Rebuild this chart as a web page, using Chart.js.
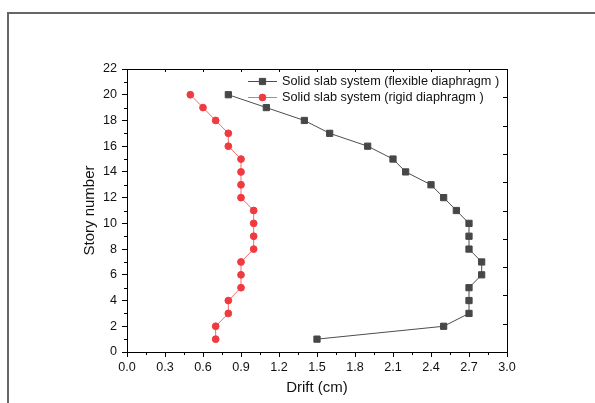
<!DOCTYPE html>
<html>
<head>
<meta charset="utf-8">
<script src="https://cdn.jsdelivr.net/npm/chart.js@4"></script>
<style>
  html, body { margin: 0; padding: 0; background: #fff; }
  #wrap { position: relative; width: 595px; height: 403px; overflow: hidden; }
  #frame { position: absolute; left: 7px; top: 12px; width: 600px; height: 400px;
           border-top: 2px solid #666; border-left: 2px solid #666; }
  canvas { position: absolute; left: 0; top: 0; }
</style>
</head>
<body>
<div id="wrap">
  <div id="frame"></div>
  <canvas id="driftChart" width="595" height="403"></canvas>
</div>
<script>
const storyNumbers = [1, 2, 3, 4, 5, 6, 7, 8, 9, 10, 11, 12, 13, 14, 15, 16, 17, 18, 19, 20];
const flexibleDrift = [1.5, 2.5, 2.7, 2.7, 2.7, 2.8, 2.8, 2.7, 2.7, 2.7, 2.6, 2.5, 2.4, 2.2, 2.1, 1.9, 1.6, 1.4, 1.1, 0.8];
const rigidDrift = [0.7, 0.7, 0.8, 0.8, 0.9, 0.9, 0.9, 1.0, 1.0, 1.0, 1.0, 0.9, 0.9, 0.9, 0.9, 0.8, 0.8, 0.7, 0.6, 0.5];
const seriesLabels = ["Solid slab system (flexible diaphragm )", "Solid slab system (rigid diaphragm )"];
const xTickStep = 0.3;
const yTickStep = 2;
const rightTickStep = 2.2;

const FONT = "'Liberation Sans', Arial, sans-serif";

const toPoints = (xs) => xs.map((x, i) => ({ x: x, y: storyNumbers[i] }));

// minor ticks, mirrored top/right ticks and the in-plot legend
const extrasPlugin = {
  id: "extras",
  afterDraw(chart) {
    const ctx = chart.ctx;
    const area = chart.chartArea;
    const xs = chart.scales.x;
    const ys = chart.scales.y;
    ctx.save();
    ctx.strokeStyle = "#000";
    ctx.lineWidth = 1;
    ctx.beginPath();
    for (let v = xTickStep / 2; v < 3; v += xTickStep) {
      const px = Math.round(xs.getPixelForValue(v)) + 0.5;
      ctx.moveTo(px, area.bottom);
      ctx.lineTo(px, area.bottom + 3);
    }
    for (let v = xTickStep; v < 3 - 0.01; v += xTickStep) {
      const px = Math.round(xs.getPixelForValue(v)) + 0.5;
      ctx.moveTo(px, area.top);
      ctx.lineTo(px, area.top + 3);
    }
    for (let v = 1; v < 22; v += yTickStep) {
      const py = Math.round(ys.getPixelForValue(v)) + 0.5;
      ctx.moveTo(area.left, py);
      ctx.lineTo(area.left - 3, py);
    }
    for (let k = 1; k < 10; k++) {
      const py = Math.round(ys.getPixelForValue(k * rightTickStep)) + 0.5;
      ctx.moveTo(area.right, py);
      ctx.lineTo(area.right - 4, py);
    }
    ctx.stroke();

    // legend
    const rows = [81, 97];
    chart.data.datasets.forEach((ds, i) => {
      const y = rows[i];
      ctx.strokeStyle = ds.borderColor;
      ctx.lineWidth = 1;
      ctx.beginPath();
      ctx.moveTo(248, y + 0.5);
      ctx.lineTo(277, y + 0.5);
      ctx.stroke();
      ctx.fillStyle = ds.pointBackgroundColor;
      ctx.strokeStyle = ds.pointBorderColor;
      ctx.lineWidth = ds.pointBorderWidth;
      Chart.helpers.drawPoint(ctx, { pointStyle: ds.pointStyle, radius: ds.pointRadius, borderWidth: ds.pointBorderWidth }, 262.5, y + 0.5);
      ctx.fillStyle = "#111";
      ctx.font = "12.7px " + FONT;
      ctx.textBaseline = "middle";
      ctx.textAlign = "left";
      ctx.fillText(ds.label, 282, y + 0.5);
    });
    ctx.restore();
  },
};

const ctx = document.getElementById("driftChart").getContext("2d");
new Chart(ctx, {
  type: "scatter",
  data: {
    datasets: [
      {
        label: seriesLabels[0],
        data: toPoints(flexibleDrift),
        showLine: true,
        borderColor: "#4d4d4d",
        borderWidth: 1,
        pointStyle: "rect",
        pointRadius: 4.4,
        pointBackgroundColor: "#474747",
        pointBorderColor: "#474747",
        pointBorderWidth: 1,
      },
      {
        label: seriesLabels[1],
        data: toPoints(rigidDrift),
        showLine: true,
        borderColor: "#f36b6e",
        borderWidth: 1,
        pointStyle: "circle",
        pointRadius: 3.4,
        pointBackgroundColor: "#ef3b40",
        pointBorderColor: "#ef3b40",
        pointBorderWidth: 1,
      },
    ],
  },
  plugins: [extrasPlugin],
  options: {
    responsive: false,
    animation: false,
    layout: { padding: { left: 77, right: 88, top: 69, bottom: 1 } },
    plugins: {
      legend: { display: false },
      tooltip: { enabled: false },
    },
    scales: {
      x: {
        type: "linear",
        position: "bottom",
        min: 0,
        max: 3,
        afterFit: (axis) => { axis.height = 50; },
        ticks: {
          stepSize: xTickStep,
          color: "#111",
          padding: 3,
          maxRotation: 0,
          font: { family: FONT, size: 12.6 },
          callback: (v) => v.toFixed(1),
        },
        grid: { display: true, drawOnChartArea: false, tickLength: 5, color: "#000" },
        border: { display: true, color: "#000", width: 1 },
        title: { display: true, text: "Drift (cm)", color: "#111", padding: { top: 0, bottom: 5 }, font: { family: FONT, size: 15 } },
      },
      y: {
        type: "linear",
        position: "left",
        min: 0,
        max: 22,
        afterFit: (axis) => { axis.width = 50; },
        ticks: {
          stepSize: yTickStep,
          color: "#111",
          padding: 5,
          font: { family: FONT, size: 12.6 },
        },
        grid: { display: true, drawOnChartArea: false, tickLength: 5, color: "#000" },
        border: { display: true, color: "#000", width: 1 },
        title: { display: true, text: "Story number", color: "#111", padding: { top: 4, bottom: 0 }, font: { family: FONT, size: 15 } },
      },
      x2: {
        type: "linear",
        position: "top",
        min: 0,
        max: 3,
        afterFit: (axis) => { axis.height = 0; },
        ticks: { display: false },
        grid: { display: false, drawTicks: false },
        border: { display: true, color: "#000", width: 1 },
      },
      y2: {
        type: "linear",
        position: "right",
        min: 0,
        max: 22,
        afterFit: (axis) => { axis.width = 0; },
        ticks: { display: false },
        grid: { display: false, drawTicks: false },
        border: { display: true, color: "#000", width: 1 },
      },
    },
  },
});
</script>
</body>
</html>
